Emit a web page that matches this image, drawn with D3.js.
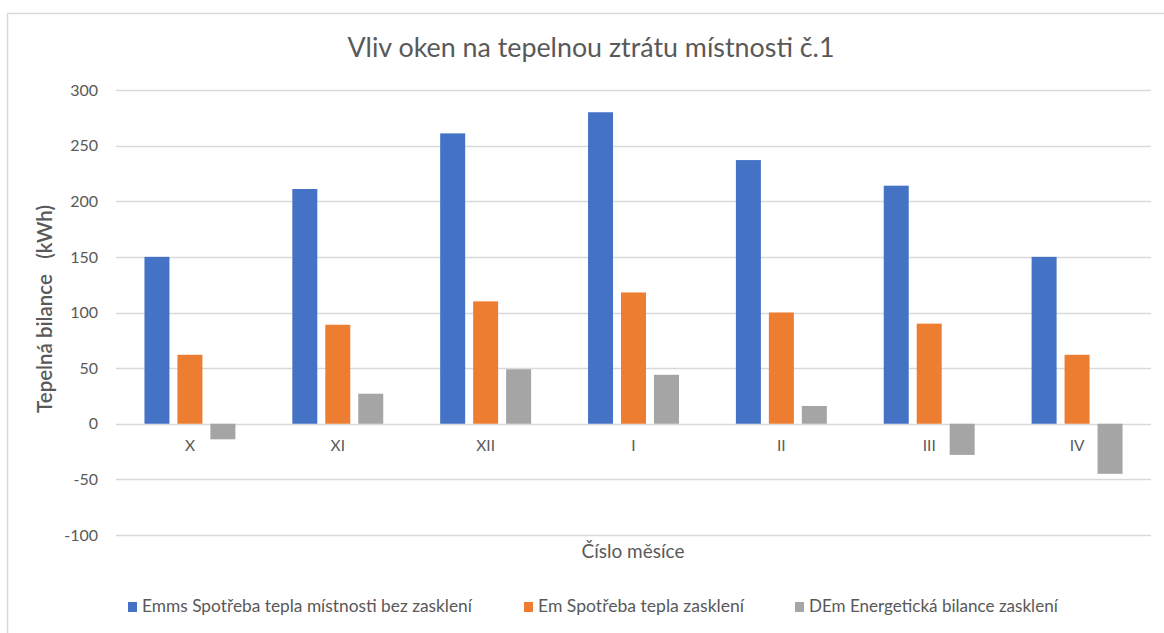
<!DOCTYPE html>
<html>
<head>
<meta charset="utf-8">
<script src="https://cdn.jsdelivr.net/npm/d3@7"></script>
<style>
  html, body { margin: 0; padding: 0; background: #ffffff; }
  svg { display: block; }
  text { font-family: "Lato", "Noto Sans", sans-serif; fill: #595959; }
</style>
</head>
<body>
<svg id="chart" width="1164" height="633"></svg>
<script>
// ---- data ----
const categories = ["X", "XI", "XII", "I", "II", "III", "IV"];
const seriesNames = [
  "Emms Spotřeba tepla místnosti bez zasklení",
  "Em Spotřeba tepla zasklení",
  "DEm Energetická bilance zasklení"
];
const emmsValues = [150, 211, 261, 280, 237, 214, 150];
const emValues   = [62, 89, 110, 118, 100, 90, 62];
const demValues  = [-14, 27, 49, 44, 16, -28, -45];
const yTicks = [-100, -50, 0, 50, 100, 150, 200, 250, 300];
const yTickLabels = ["-100", "-50", "0", "50", "100", "150", "200", "250", "300"];
const seriesColors = ["#4472C4", "#ED7D31", "#A5A5A5"];
const titleText = "Vliv oken na tepelnou ztrátu místnosti č.1";
const yTitleText = "Tepelná bilance   (kWh)";
const xTitleText = "Číslo měsíce";

const seriesValues = [emmsValues, emValues, demValues];

// ---- layout ----
const svg = d3.select("#chart");
const plot = { left: 116, right: 1151, top: 90, bottom: 535 };

function fit(sel, target) {
  const node = sel.node();
  const size = parseFloat(sel.attr("font-size"));
  const w = node.getComputedTextLength();
  sel.attr("font-size", (size * target / w).toFixed(2));
}

// chart border
svg.append("rect")
  .attr("x", 7.5).attr("y", 13.5)
  .attr("width", 1300).attr("height", 800)
  .attr("fill", "#ffffff")
  .attr("stroke", "#d9d9d9").attr("stroke-width", 1.5);

const x0 = d3.scaleBand()
  .domain(categories)
  .range([plot.left, plot.right])
  .paddingInner(0.385)
  .paddingOuter(0.1925);

const x1 = d3.scaleBand()
  .domain(d3.range(seriesNames.length))
  .range([0, x0.bandwidth()])
  .paddingInner(0.242);

const y = d3.scaleLinear()
  .domain([-100, 300])
  .range([plot.bottom, plot.top]);

// gridlines
svg.append("g")
  .selectAll("line")
  .data(yTicks)
  .join("line")
  .attr("x1", plot.left).attr("x2", plot.right)
  .attr("y1", d => Math.round(y(d)) + 0.5)
  .attr("y2", d => Math.round(y(d)) + 0.5)
  .attr("stroke", "#d9d9d9").attr("stroke-width", 1.3);

// y axis labels
const yAxis = d3.axisLeft(y)
  .tickValues(yTicks)
  .tickFormat((d, i) => yTickLabels[i])
  .tickSize(0).tickPadding(0);
const yg = svg.append("g")
  .attr("transform", `translate(98,0)`)
  .call(yAxis);
yg.select(".domain").remove();
yg.selectAll("text")
  .attr("font-size", 16)
  .attr("fill", "#595959")
  .style("font-family", "Lato, 'Noto Sans', sans-serif");

// bars
const groups = svg.append("g")
  .selectAll("g")
  .data(categories)
  .join("g")
  .attr("transform", d => `translate(${x0(d)},0)`);

groups.selectAll("rect")
  .data((c, i) => seriesValues.map((vals, s) => ({ s, v: vals[i] })))
  .join("rect")
  .attr("x", d => x1(d.s))
  .attr("width", x1.bandwidth())
  .attr("y", d => y(Math.max(0, d.v)))
  .attr("height", d => Math.abs(y(d.v) - y(0)))
  .attr("fill", d => seriesColors[d.s]);

// category labels
const xAxis = d3.axisBottom(x0).tickSize(0).tickPadding(0);
const xg = svg.append("g")
  .attr("transform", `translate(0,440)`)
  .call(xAxis);
xg.select(".domain").remove();
xg.selectAll("text")
  .attr("font-size", 15.5)
  .attr("fill", "#595959")
  .style("font-family", "Lato, 'Noto Sans', sans-serif");

// title
const title = svg.append("text")
  .attr("x", 591).attr("y", 57)
  .attr("text-anchor", "middle")
  .attr("font-size", 24)
  .text(titleText);
fit(title, 487);

// y axis title
const yTitle = svg.append("text")
  .attr("transform", "translate(52,309) rotate(-90)")
  .attr("text-anchor", "middle")
  .attr("font-size", 15)
  .attr("font-weight", 600)
  .style("white-space", "pre")
  .text(yTitleText);
fit(yTitle, 208);

// x axis title
const xTitle = svg.append("text")
  .attr("x", 633).attr("y", 558)
  .attr("text-anchor", "middle")
  .attr("font-size", 17)
  .text(xTitleText);
fit(xTitle, 103);

// legend
const legendX = [128, 524, 795];
const legendW = [330, 206, 249];
const lg = svg.append("g")
  .selectAll("g")
  .data(seriesNames)
  .join("g")
  .attr("transform", (d, i) => `translate(${legendX[i]},0)`);
lg.append("rect")
  .attr("x", 0).attr("y", 602)
  .attr("width", 9).attr("height", 10)
  .attr("fill", (d, i) => seriesColors[i]);
lg.append("text")
  .attr("x", 14).attr("y", 612)
  .attr("font-size", 15)
  .text(d => d)
  .each(function (d, i) { fit(d3.select(this), legendW[i]); });
</script>
</body>
</html>
